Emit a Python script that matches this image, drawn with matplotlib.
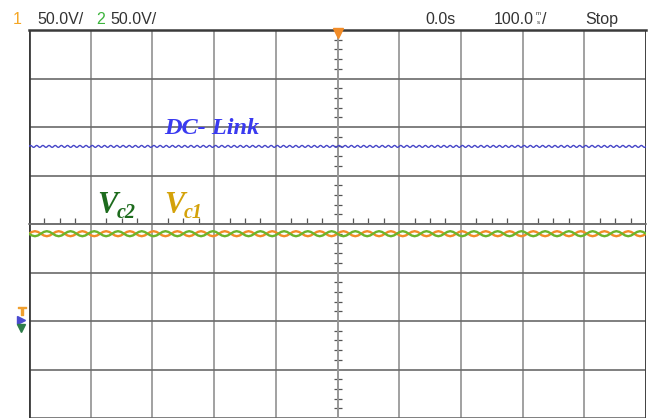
import numpy as np
import matplotlib
matplotlib.use("Agg")
import matplotlib.pyplot as plt
from matplotlib.ticker import MultipleLocator
from matplotlib.transforms import blended_transform_factory

volts_per_div = 50.0          # both channels 50.0 V/div
ground_div = -2.0             # ground reference marker, divisions from centre
time_per_div = 100.0          # ms/div
n_xdiv = 10
n_ydiv = 8

dc_link_volts = 180.0         # DC-Link level
vc1_volts = 90.0              # capacitor 1 voltage
vc2_volts = 90.0              # capacitor 2 voltage

dc_ripple_volts = 1.0         # ripple amplitude on DC-Link
vc_ripple_volts = 2.6         # ripple amplitude on Vc1 / Vc2
dc_ripple_cycles = 100        # ripple cycles across the screen
vc_ripple_cycles = 26

ripple_cycle_shape = [0.0, 0.71, 1.0, 0.71, 0.0, -0.71, -1.0, -0.71]

# ---------------- figure ----------------
W, H = 655, 418
fig = plt.figure(figsize=(W / 100, H / 100), dpi=100)
fig.patch.set_facecolor("white")
L, R, T, B = 29, 646, 30, 418
ax = fig.add_axes([L / W, 1 - B / H, (R - L) / W, (B - T) / H])
half_t = time_per_div * n_xdiv / 2
ax.set_xlim(-half_t, half_t)
ax.set_ylim(-n_ydiv / 2, n_ydiv / 2)


def to_div(v):
    return ground_div + np.asarray(v) / volts_per_div


def trace(level, amp, cycles):
    shape = np.tile(ripple_cycle_shape, cycles)
    shape = np.append(shape, ripple_cycle_shape[0])
    t = np.linspace(-half_t, half_t, len(shape))
    return t, to_div(level + amp * shape)


# graticule
ax.xaxis.set_major_locator(MultipleLocator(time_per_div))
ax.yaxis.set_major_locator(MultipleLocator(1))
ax.xaxis.set_minor_locator(MultipleLocator(time_per_div / 4))
ax.yaxis.set_minor_locator(MultipleLocator(0.2))
ax.grid(True, which="major", axis="x", color="#9a9a9a", lw=1.3)
ax.grid(True, which="major", axis="y", color="#6a6a6a", lw=1.2)
ax.spines["top"].set_visible(False)
ax.spines["right"].set_visible(False)
ax.spines["bottom"].set_position(("data", 0))
ax.spines["left"].set_position(("data", 0))
ax.spines["bottom"].set_color("#707070")
ax.spines["left"].set_color("#9a9a9a")
ax.spines["bottom"].set_linewidth(1.2)
ax.spines["left"].set_linewidth(1.3)
ax.tick_params(which="major", length=0, labelbottom=False, labelleft=False)
ax.tick_params(axis="x", which="minor", length=4, width=0.9, direction="in", color="#555555")
ax.tick_params(axis="y", which="minor", length=6, width=0.9, direction="inout", color="#555555")
ax.set_axisbelow(True)
# screen borders
ax.axvline(-half_t, color="#3a3a3a", lw=2.0, zorder=1)
ax.axvline(half_t, color="#3a3a3a", lw=2.0, zorder=1)
ax.axhline(n_ydiv / 2, color="#3a3a3a", lw=1.8, zorder=1, clip_on=False)

# traces
t, y = trace(dc_link_volts, dc_ripple_volts, dc_ripple_cycles)
ax.plot(t, y, color="#4646c8", lw=1.0, zorder=3)
t, y1 = trace(vc1_volts, vc_ripple_volts, vc_ripple_cycles)
ax.plot(t, y1, color="#f28c28", lw=1.7, zorder=3)
t, y2 = trace(vc2_volts, -vc_ripple_volts, vc_ripple_cycles)
ax.plot(t, y2, color="#6cb42c", lw=1.7, zorder=4)

# trigger marker
ax.plot([0], [n_ydiv / 2 - 0.06], marker="v", color="#f28c28", ms=7, clip_on=False, zorder=5)

# ground marker at channel reference level
bt = blended_transform_factory(fig.transFigure, ax.transData)
ax.plot([22 / W], [ground_div + 0.2], marker="$\\mathsf{T}$", color="#f0a030", ms=6,
        transform=bt, clip_on=False)
ax.plot([21 / W], [ground_div + 0.02], marker=">", color="#4a4ad0", ms=6,
        transform=bt, clip_on=False)
ax.plot([21 / W], [ground_div - 0.14], marker="v", color="#2e7d4a", ms=6,
        transform=bt, clip_on=False)


def ftxt(px, py, s, **kw):
    fig.text(px / W, 1 - py / H, s, **kw)


hdr = dict(family=["Liberation Sans", "DejaVu Sans"], fontsize=11.5, va="baseline")
small = dict(family=["Liberation Sans", "DejaVu Sans"], fontsize=4.5, va="baseline", color="#333333")
ftxt(13, 24, "1", color="#f5a623", **hdr)
ftxt(37, 24, "50.0V/", color="#333333", **hdr)
ftxt(96, 24, "2", color="#3cb43c", **hdr)
ftxt(110, 24, "50.0V/", color="#333333", **hdr)
ftxt(425, 24, "0.0s", color="#333333", **hdr)
ftxt(494, 24, "100.0", color="#333333", **hdr)
ftxt(536, 15, "m", **small)
ftxt(537, 24.5, "s", **small)
ftxt(542, 24, "/", color="#333333", **hdr)
ftxt(585, 24, "Stop", color="#333333", **hdr)

lab = dict(family=["Liberation Serif", "DejaVu Serif"], fontweight="bold", fontstyle="italic",
           va="baseline")
ftxt(164, 134, "DC- Link", color="#3a3af0", fontsize=17.5, **lab)
ftxt(97, 213, "V", color="#1d6b1d", fontsize=22, **lab)
ftxt(117, 218, "c2", color="#1d6b1d", fontsize=14.5, **lab)
ftxt(164, 213, "V", color="#d4a20a", fontsize=22, **lab)
ftxt(184, 218, "c1", color="#d4a20a", fontsize=14.5, **lab)

fig.savefig("out.png", dpi=100, facecolor="white")
